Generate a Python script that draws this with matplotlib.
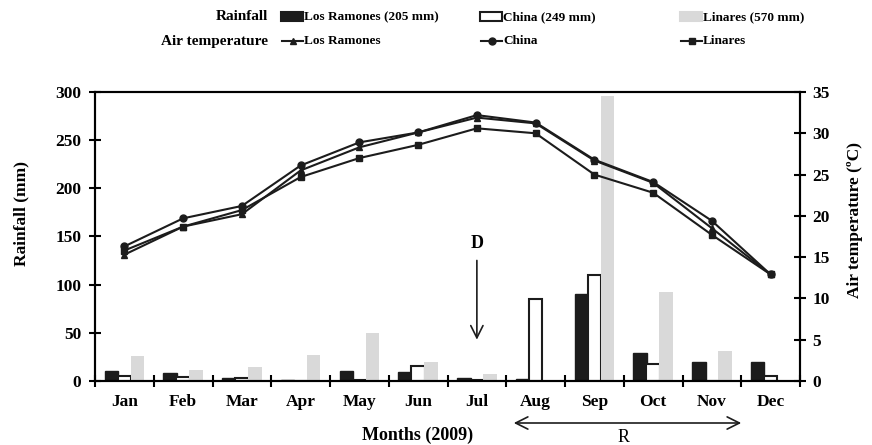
import matplotlib
matplotlib.use('Agg')
import matplotlib.pyplot as plt
from matplotlib.patches import Rectangle, FancyArrowPatch
from matplotlib.lines import Line2D
import numpy as np

plt.rcParams['font.family'] = ['Liberation Serif', 'DejaVu Serif']
plt.rcParams['font.weight'] = 'bold'

months = ['Jan', 'Feb', 'Mar', 'Apr', 'May', 'Jun', 'Jul', 'Aug', 'Sep', 'Oct', 'Nov', 'Dec']
rain_ramones = [10, 8, 3.5, 1, 10, 9, 3, 2, 90, 29.5, 20, 20]
rain_china = [5, 4, 3.5, 0.5, 1.5, 16, 1, 85, 110, 17.5, 0, 5]
rain_linares = [26, 11, 15, 27, 50, 19.5, 7, 0, 296, 92, 31, 0]
temp_ramones = [15.3, 18.7, 20.2, 25.5, 28.3, 30.1, 31.9, 31.2, 26.7, 24.0, 18.5, 12.9]
temp_china = [16.3, 19.7, 21.2, 26.1, 28.9, 30.1, 32.2, 31.3, 26.8, 24.1, 19.4, 12.9]
temp_linares = [15.8, 18.7, 20.7, 24.7, 27.0, 28.6, 30.6, 30.0, 25.0, 22.8, 17.7, 12.9]
rain_labels = ['Los Ramones (205 mm)', 'China (249 mm)', 'Linares (570 mm)']
temp_labels = ['Los Ramones', 'China', 'Linares']

BLACK = '#1c1c1c'
GRAY = '#d9d9d9'
FS = 12.5

fig = plt.figure(figsize=(8.72, 4.45), dpi=100)
ax = fig.add_axes([95/872, 1-381/445, 705/872, 289/445])
ax2 = ax.twinx()

x = np.arange(12) + 0.5
w = 0.23
ax.bar(x - 0.22, rain_ramones, w, color=BLACK, edgecolor=BLACK, lw=1)
ax.bar(x, rain_china, w, color='white', edgecolor=BLACK, lw=1.5)
ax.bar(x + 0.22, rain_linares, w, color=GRAY, edgecolor=GRAY, lw=0)

lk = dict(color=BLACK, lw=1.5, ms=5)
ax2.plot(x, temp_ramones, marker='^', **lk)
ax2.plot(x, temp_china, marker='o', **lk)
ax2.plot(x, temp_linares, marker='s', **lk)

ax.set_xlim(0, 12)
ax.set_ylim(0, 300)
ax2.set_ylim(0, 35)
ax.set_yticks(np.arange(0, 301, 50))
ax2.set_yticks(np.arange(0, 36, 5))
ax.set_xticks(np.arange(0, 13))
ax.set_xticklabels([])
ax.set_xticks(x, minor=True)
ax.set_xticklabels(months, minor=True)
ax.tick_params(axis='x', which='minor', length=0, pad=9, labelsize=FS)
ax.tick_params(axis='x', which='major', direction='inout', length=8, width=1.5)
ax.tick_params(axis='y', direction='inout', length=8, width=1.5, labelsize=FS, pad=6)
ax2.tick_params(axis='y', direction='inout', length=8, width=1.5, labelsize=FS, pad=5)
for a in (ax, ax2):
    for s in a.spines.values():
        s.set_linewidth(1.5)

ax.set_ylabel('Rainfall (mm)', fontsize=FS, fontweight='bold')
ax.yaxis.set_label_coords(-0.093, 0.58)
ax2.set_ylabel('Air temperature (ºC)', fontsize=FS, fontweight='bold')
ax2.yaxis.set_label_coords(1.067, 0.557)
fig.text(418/872, 1-435/445, 'Months (2009)', ha='center', va='center', fontsize=13)

# D arrow (July)
ax.annotate('', xy=(6.5, 40), xytext=(6.5, 128),
            arrowprops=dict(arrowstyle='->', color=BLACK, lw=1.2, mutation_scale=22))
ax.text(6.5, 143, 'D', ha='center', va='center', fontsize=13, fontweight='bold')

# R arrow (Aug - Nov)
fig.patches.append(FancyArrowPatch(
    (511/872, 1-423/445), (744/872, 1-423/445), transform=fig.transFigure,
    arrowstyle='<->', mutation_scale=22, color=BLACK, lw=1.2))
fig.text(624/872, 1-437/445, 'R', ha='center', va='center', fontsize=13, fontweight='normal')

# legend rows
row1, row2 = 1-17/445, 1-41/445
fig.text(268/872, row1, 'Rainfall', ha='right', va='center', fontsize=11)
fig.text(268/872, row2, 'Air temperature', ha='right', va='center', fontsize=11)
cols = [281, 480, 680]
styles = [dict(fc=BLACK, ec=BLACK), dict(fc='white', ec=BLACK), dict(fc=GRAY, ec=GRAY)]
markers = ['^', 'o', 's']
for cx, lab, st in zip(cols, rain_labels, styles):
    fig.patches.append(Rectangle((cx/872, row1 - 4/445), 22/872, 9/445,
                                 transform=fig.transFigure, lw=1.5, **st))
    fig.text((cx + 23)/872, row1, lab, ha='left', va='center', fontsize=9.5)
for cx, lab, m in zip(cols, temp_labels, markers):
    fig.lines.append(Line2D([(cx + 1)/872, (cx + 22)/872], [row2, row2],
                            transform=fig.transFigure, color=BLACK, lw=1.5))
    fig.lines.append(Line2D([(cx + 11.5)/872], [row2], transform=fig.transFigure,
                            color=BLACK, marker=m, ms=5))
    fig.text((cx + 23)/872, row2, lab, ha='left', va='center', fontsize=9.5)

fig.savefig('out.png', dpi=100)
